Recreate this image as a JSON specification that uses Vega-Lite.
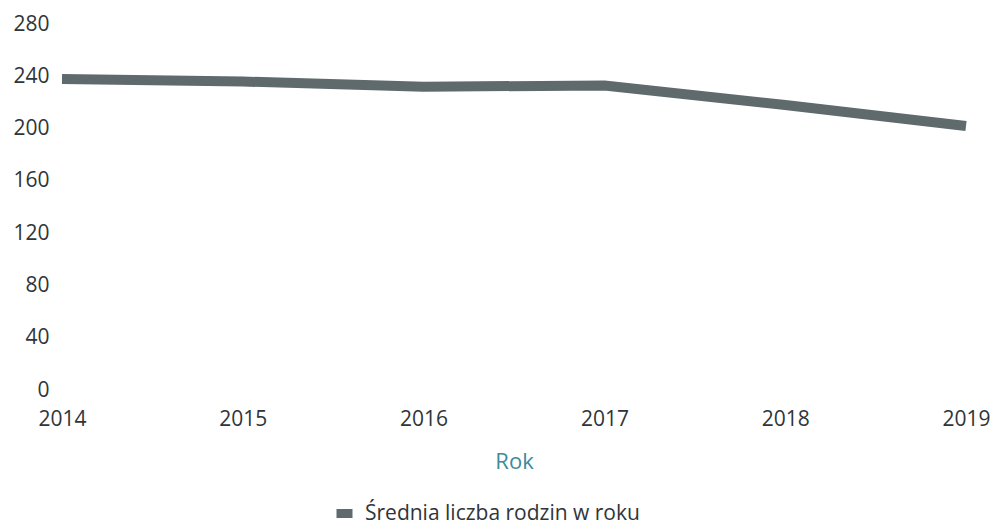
{
  "$schema": "https://vega.github.io/schema/vega-lite/v6.json",
  "width": 904,
  "height": 366,
  "autosize": {"type": "none"},
  "padding": {"left": 62, "top": 24, "right": 25, "bottom": 134},
  "background": "white",
  "config": {
    "view": {"stroke": null},
    "font": "Open Sans"
  },
  "data": {
    "values": [
      {"Rok": "2014", "Wartosc": 238, "Seria": "Średnia liczba rodzin w roku"},
      {"Rok": "2015", "Wartosc": 236, "Seria": "Średnia liczba rodzin w roku"},
      {"Rok": "2016", "Wartosc": 232, "Seria": "Średnia liczba rodzin w roku"},
      {"Rok": "2017", "Wartosc": 233, "Seria": "Średnia liczba rodzin w roku"},
      {"Rok": "2018", "Wartosc": 218, "Seria": "Średnia liczba rodzin w roku"},
      {"Rok": "2019", "Wartosc": 202, "Seria": "Średnia liczba rodzin w roku"}
    ]
  },
  "mark": {"type": "line", "strokeWidth": 10, "strokeCap": "butt", "strokeJoin": "round"},
  "encoding": {
    "x": {
      "field": "Rok",
      "type": "ordinal",
      "scale": {"type": "point", "padding": 0},
      "axis": {
        "title": "Rok",
        "titleColor": "#3f8a9c",
        "titleFontSize": 22,
        "titleFontWeight": "normal",
        "titlePadding": 22,
        "labelAngle": 0,
        "labelFontSize": 21,
        "labelColor": "#2f3538",
        "labelPadding": 18,
        "ticks": false,
        "domain": false,
        "grid": false
      }
    },
    "y": {
      "field": "Wartosc",
      "type": "quantitative",
      "scale": {"domain": [0, 280], "nice": false},
      "axis": {
        "title": null,
        "values": [0, 40, 80, 120, 160, 200, 240, 280],
        "labelFontSize": 21,
        "labelColor": "#2f3538",
        "labelPadding": 13,
        "ticks": false,
        "domain": false,
        "grid": false
      }
    },
    "color": {
      "field": "Seria",
      "type": "nominal",
      "scale": {"range": ["#5e6a6c"]},
      "legend": {
        "title": null,
        "orient": "none",
        "legendX": 270,
        "legendY": 477,
        "direction": "horizontal",
        "labelFontSize": 21,
        "labelLimit": 0,
        "labelColor": "#2f3538",
        "symbolType": "M-1,0H1",
        "symbolSize": 256,
        "symbolStrokeWidth": 9,
        "labelOffset": 8
      }
    }
  }
}
